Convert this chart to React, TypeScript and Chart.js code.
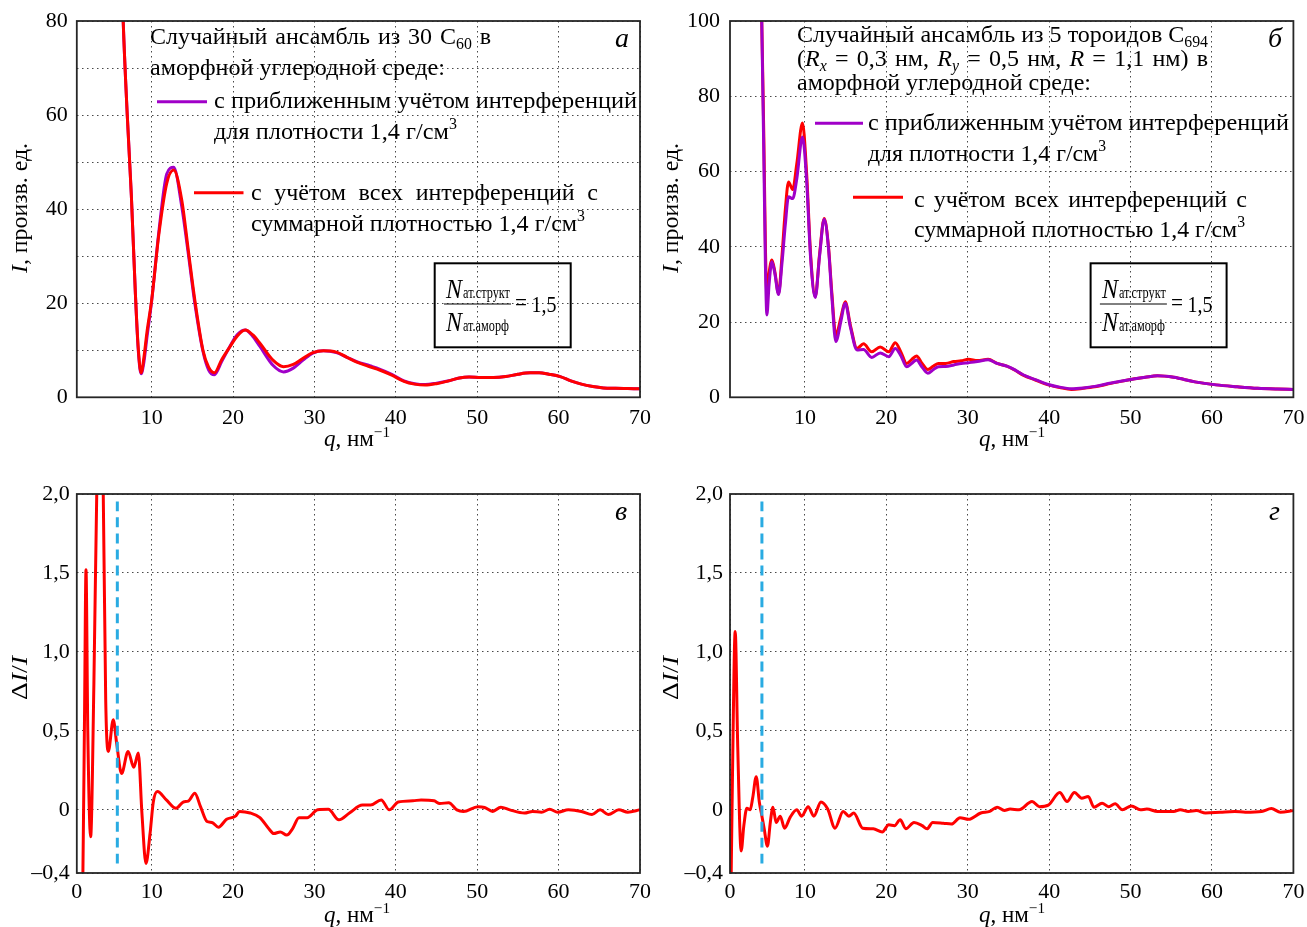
import React, { useEffect, useRef } from 'react';
import { Chart, registerables } from 'chart.js';

Chart.register(...registerables);

// ---------------- data ----------------
// Panel а: I(q) for 30 C60 ensemble
const qA = [5.8, 6.2, 6.5, 7.0, 7.5, 8.0, 8.35, 8.7, 9.05, 9.4, 10.0, 10.9, 11.85, 12.7, 13.7, 14.5, 15.3, 16.3, 17.0, 17.7, 18.6, 19.6, 20.5, 21.5, 22.4, 23.3, 24.9, 26.2, 27.4, 28.6, 29.8, 31.1, 32.7, 34.0, 35.2, 36.8, 38.0, 39.5, 41.0, 42.3, 43.6, 45.0, 46.5, 47.8, 49.0, 50.5, 52.0, 53.5, 55.0, 56.5, 57.6, 58.8, 60.2, 61.5, 62.8, 64.2, 65.5, 67.0, 68.5, 70.0];
const iARed = [130, 98, 80, 60, 43, 22, 10.5, 5.2, 8.5, 13.6, 20.7, 34.9, 45.5, 48.3, 41.9, 31.3, 20.7, 10, 6.4, 5.2, 8, 10.7, 13, 14.3, 13.3, 11.5, 7.9, 6.5, 7.0, 8.3, 9.5, 9.9, 9.6, 8.5, 7.5, 6.5, 5.8, 4.7, 3.4, 2.8, 2.6, 2.9, 3.5, 4.1, 4.3, 4.2, 4.2, 4.4, 4.9, 5.2, 5.2, 4.9, 4.4, 3.5, 2.8, 2.3, 2.0, 1.9, 1.85, 1.8];
const iAPurple = [130, 98, 80, 60, 43, 22, 10.0, 5.0, 7.5, 12.5, 20.5, 35.5, 47.5, 48.9, 40.5, 30.5, 20.0, 9.8, 5.8, 4.8, 7.6, 10.8, 13.3, 14.3, 13.0, 10.8, 6.8, 5.4, 6.2, 7.9, 9.4, 9.9, 9.5, 8.5, 7.6, 6.7, 6.0, 4.9, 3.5, 2.9, 2.7, 3.0, 3.5, 4.1, 4.3, 4.2, 4.2, 4.4, 4.9, 5.2, 5.2, 4.9, 4.4, 3.5, 2.8, 2.3, 2.0, 1.9, 1.85, 1.8];

// Panel б: I(q) for 5 C694 toroids
const qB = [4.3, 4.7, 4.95, 5.15, 5.33, 5.6, 5.94, 6.3, 6.76, 7.2, 7.6, 7.99, 8.5, 9.0, 9.7, 10.2, 10.7, 11.27, 11.8, 12.37, 12.9, 13.3, 13.8, 14.4, 14.95, 15.6, 16.4, 17.2, 18.2, 19.25, 20.3, 21.1, 21.8, 22.5, 23.1, 23.7, 24.4, 25.1, 25.8, 26.4, 27.3, 28.3, 29.2, 30.1, 31.2, 32.5, 33.6, 34.8, 35.8, 36.8, 38.3, 39.9, 41.3, 42.75, 44.2, 45.6, 47.6, 50.2, 51.8, 53.3, 55.3, 57.9, 60.5, 63.1, 65.6, 68, 70];
const iBRed = [150, 100, 70, 40, 27.6, 33, 36.5, 33.5, 27.6, 38, 50, 57.2, 55.2, 62, 72.9, 60, 38, 26.7, 38, 47.5, 40, 28, 16.5, 21, 25.4, 19, 13, 14.2, 12.1, 13.4, 12.1, 14.5, 12, 9.0, 10, 11, 9, 7.4, 8.3, 9.0, 9.0, 9.5, 9.7, 10.1, 9.8, 10.1, 9, 8.3, 7.2, 5.9, 4.6, 3.3, 2.6, 2.1, 2.4, 2.8, 3.7, 4.8, 5.3, 5.7, 5.3, 4.1, 3.3, 2.8, 2.4, 2.2, 2.1];
const iBPurple = [150, 100, 65, 35, 21.9, 30, 36, 33, 27.3, 36, 46, 53.3, 52.8, 58, 69.2, 58, 37, 26.5, 37.5, 47.3, 39.5, 27, 14.8, 20, 25, 18.5, 12.6, 12.7, 10.6, 11.8, 10.8, 13, 11, 8.1, 9, 9.9, 8, 6.4, 7.4, 8.1, 8.2, 8.6, 9, 9.2, 9.5, 10, 9, 8.3, 7.3, 6, 4.7, 3.4, 2.7, 2.3, 2.5, 2.9, 3.8, 4.8, 5.3, 5.7, 5.3, 4.1, 3.3, 2.8, 2.4, 2.2, 2.1];

// Panel в: ΔI/I for C60
const qC = [1.35, 1.55, 1.75, 1.93, 2.15, 2.5, 2.9, 3.25, 3.65, 4.05, 4.35, 4.67, 5.28, 5.7, 6.3, 7.1, 7.8, 8.36, 8.8, 9.3, 9.8, 10.2, 10.7, 11.8, 13.0, 13.9, 14.5, 15.3, 16.0, 16.8, 17.4, 18.2, 19.2, 20.3, 20.8, 22.1, 23.3, 24.4, 25.0, 25.8, 26.6, 27.3, 28.1, 29.1, 30.4, 31.7, 33.0, 34.3, 35.9, 36.9, 38.2, 39.2, 40.3, 42.1, 43.1, 44.7, 45.4, 46.5, 47.5, 48.3, 50.1, 50.9, 51.9, 52.9, 54.0, 55.8, 56.8, 57.9, 58.9, 59.9, 61.2, 62.8, 64.1, 65.1, 66.1, 67.4, 68.5, 70.0];
const dC = [-0.7, -0.4, 0.6, 1.52, 0.5, -0.17, 0.8, 2.0, 2.6, 2.0, 0.7, 0.37, 0.57, 0.42, 0.23, 0.37, 0.27, 0.36, -0.02, -0.34, -0.15, 0.05, 0.116, 0.063, 0.01, 0.05, 0.055, 0.105, 0.02, -0.074, -0.08, -0.11, -0.06, -0.04, -0.01, -0.02, -0.05, -0.12, -0.15, -0.14, -0.16, -0.12, -0.05, -0.05, 0.0, 0.003, -0.063, -0.02, 0.03, 0.03, 0.063, 0.0, 0.05, 0.057, 0.063, 0.057, 0.04, 0.045, 0.0, -0.01, 0.02, 0.015, -0.01, 0.017, 0.0, -0.02, -0.01, -0.015, 0.003, -0.015, 0.0, -0.01, -0.03, 0.0, -0.03, 0.0, -0.015, 0.0];

// Panel г: ΔI/I for C694 toroids
const qD = [0.9, 1.1, 1.44, 1.75, 2.17, 2.5, 2.87, 3.28, 3.6, 4.02, 4.4, 4.72, 5.0, 5.4, 5.75, 6.07, 6.47, 6.97, 7.5, 8.2, 9.0, 9.6, 10.4, 11.1, 11.97, 12.8, 13.7, 14.7, 15.4, 16.0, 17.1, 18.4, 19.5, 20.3, 21.0, 21.7, 22.4, 23.4, 24.4, 25.0, 25.7, 27.0, 28.0, 29.05, 30.1, 31.6, 32.7, 33.6, 34.5, 35.2, 36.3, 37.9, 38.8, 39.9, 41.3, 42.2, 43.1, 44.0, 44.8, 45.5, 46.5, 47.3, 48.1, 49.0, 50.1, 51.2, 52.0, 53.3, 55.3, 56.1, 57.1, 58.1, 59.2, 61.0, 62.8, 64.1, 66.1, 67.3, 68.4, 70.0];
const dD = [-0.6, 0.2, 1.13, 0.4, -0.26, -0.1, 0.01, 0.0, 0.08, 0.21, 0.05, -0.04, -0.12, -0.23, -0.08, 0.017, -0.08, -0.04, -0.116, -0.046, 0.0, -0.04, 0.02, -0.04, 0.05, 0.005, -0.116, -0.01, -0.04, -0.02, -0.116, -0.12, -0.14, -0.095, -0.1, -0.063, -0.12, -0.08, -0.1, -0.12, -0.08, -0.085, -0.09, -0.05, -0.06, -0.02, -0.01, 0.017, -0.004, 0.005, 0.0, 0.053, 0.02, 0.03, 0.11, 0.053, 0.11, 0.074, 0.085, 0.017, 0.042, 0.02, 0.038, 0.0, 0.025, 0.0, 0.005, -0.01, -0.01, 0.0, -0.01, -0.005, -0.02, -0.015, -0.01, -0.015, -0.01, 0.008, -0.015, -0.005];

// blue dashed markers
const markerQC = [5.78, 5.78];
const markerQD = [4.72, 4.72];
const markerV = [-0.34, 1.975];

// ticks
const xTicksTop = [10, 20, 30, 40, 50, 60, 70];
const xLabelsTop = ['10', '20', '30', '40', '50', '60', '70'];
const xTicksBottom = [0, 10, 20, 30, 40, 50, 60, 70];
const xLabelsBottom = ['0', '10', '20', '30', '40', '50', '60', '70'];
const yTicksA = [0, 10, 20, 30, 40, 50, 60, 70, 80];
const yLabelsA = ['0', '', '20', '', '40', '', '60', '', '80'];
const yTicksB = [0, 20, 40, 60, 80, 100];
const yLabelsB = ['0', '20', '40', '60', '80', '100'];
const yTicksD = [-0.4, 0, 0.5, 1, 1.5, 2];
const yLabelsD = ['–0,4', '0', '0,5', '1,0', '1,5', '2,0'];

// ---------------- styles ----------------
const FONT = '"Liberation Serif", "Times New Roman", serif';
const RED = '#FF0000';
const PURPLE = '#A000C8';
const BLUE = '#29ABE2';
const GRID = 'rgba(40,40,40,0.85)';
const X_MIN = 0.8;
const TXT = 24;

type Run = { t: string; it?: boolean; sub?: boolean; sup?: boolean };

function drawRich(ctx: CanvasRenderingContext2D, runs: Run[], x: number, y: number, size: number, endX?: number, mode: 'fit' | 'justify' = 'fit') {
  const pieces: any[] = [];
  for (const r of runs) {
    const s = r.sub || r.sup ? size * 0.66 : size;
    const font = `${r.it ? 'italic ' : ''}${s}px ${FONT}`;
    ctx.font = font;
    const dy = r.sub ? size * 0.22 : r.sup ? -size * 0.4 : 0;
    for (const p of r.t.split(/( )/)) {
      if (!p) continue;
      pieces.push({ text: p, font, w: ctx.measureText(p).width, dy, space: p === ' ' });
    }
  }
  const natural = pieces.reduce((s, p) => s + p.w, 0);
  const nSp = pieces.filter((p) => p.space).length;
  let extra = 0;
  let sx = 1;
  if (endX !== undefined) {
    const target = endX - x;
    if (mode === 'justify' && target > natural && nSp > 0) extra = (target - natural) / nSp;
    else sx = target / natural;
  }
  ctx.save();
  ctx.translate(x, y);
  ctx.scale(sx, 1);
  ctx.fillStyle = '#000';
  ctx.textAlign = 'left';
  ctx.textBaseline = 'alphabetic';
  let cx = 0;
  for (const p of pieces) {
    if (!p.space) {
      ctx.font = p.font;
      ctx.fillText(p.text, cx, p.dy);
    }
    cx += p.w + (p.space ? extra : 0);
  }
  ctx.restore();
}

function legendLine(ctx: CanvasRenderingContext2D, x1: number, x2: number, y: number, color: string) {
  ctx.save();
  ctx.strokeStyle = color;
  ctx.lineWidth = 3;
  ctx.setLineDash([]);
  ctx.beginPath();
  ctx.moveTo(x1, y);
  ctx.lineTo(x2, y);
  ctx.stroke();
  ctx.restore();
}

function yTitle(ctx: CanvasRenderingContext2D, runs: Run[], cx: number, cy: number, len: number, size: number) {
  ctx.save();
  ctx.translate(cx, cy);
  ctx.rotate(-Math.PI / 2);
  drawRich(ctx, runs, -len / 2, size * 0.25, size, len / 2, 'fit');
  ctx.restore();
}

function xTitle(ctx: CanvasRenderingContext2D, runs: Run[], cx: number, base: number, len: number, size: number) {
  drawRich(ctx, runs, cx - len / 2, base, size, cx + len / 2, 'fit');
}

const Q_TITLE: Run[] = [{ t: 'q', it: true }, { t: ', нм' }, { t: '−1', sup: true }];
const I_TITLE: Run[] = [{ t: 'I', it: true }, { t: ', произв. ед.' }];
const D_TITLE: Run[] = [{ t: 'Δ' }, { t: 'I', it: true }, { t: '/' }, { t: 'I', it: true }];

function drawFormula(ctx: CanvasRenderingContext2D, dx: number) {
  ctx.save();
  ctx.strokeStyle = '#000';
  ctx.lineWidth = 2;
  ctx.setLineDash([]);
  ctx.strokeRect(434.7 + dx, 263.3, 136, 84);
  ctx.lineWidth = 1;
  ctx.beginPath();
  ctx.moveTo(444 + dx, 304);
  ctx.lineTo(511 + dx, 304);
  ctx.stroke();
  ctx.restore();
  drawRich(ctx, [{ t: 'N', it: true }], 446 + dx, 298, 27, 462 + dx);
  drawRich(ctx, [{ t: 'ат.структ' }], 463 + dx, 298, 16, 510 + dx);
  drawRich(ctx, [{ t: 'N', it: true }], 446 + dx, 331, 27, 462 + dx);
  drawRich(ctx, [{ t: 'ат.аморф' }], 463 + dx, 331, 16, 509 + dx);
  drawRich(ctx, [{ t: '=' }], 515 + dx, 310, 23, 527 + dx);
  drawRich(ctx, [{ t: '1,5' }], 531.5 + dx, 311.5, 23, 556.5 + dx);
}

function drawA(ctx: CanvasRenderingContext2D) {
  drawRich(ctx, [{ t: 'Случайный ансамбль из 30 C' }, { t: '60', sub: true }, { t: ' в' }], 150, 44, TXT, 491, 'justify');
  drawRich(ctx, [{ t: 'аморфной углеродной среде:' }], 150, 75, TXT, 445);
  legendLine(ctx, 157, 207, 101.7, PURPLE);
  drawRich(ctx, [{ t: 'с приближенным учётом интерференций' }], 214, 108, TXT, 637);
  drawRich(ctx, [{ t: 'для плотности 1,4 г/см' }, { t: '3', sup: true }], 214, 139, TXT, 457);
  legendLine(ctx, 194, 243.5, 192.7, RED);
  drawRich(ctx, [{ t: 'с учётом всех интерференций с' }], 251, 200, TXT, 598, 'justify');
  drawRich(ctx, [{ t: 'суммарной плотностью 1,4 г/см' }, { t: '3', sup: true }], 251, 231, TXT, 585);
  drawRich(ctx, [{ t: 'а', it: true }], 615, 47, 28);
  drawFormula(ctx, 0);
  yTitle(ctx, I_TITLE, 21, 208, 130, 23);
  xTitle(ctx, Q_TITLE, 357, 446, 66, 23);
}

function drawB(ctx: CanvasRenderingContext2D) {
  drawRich(ctx, [{ t: 'Случайный ансамбль из 5 тороидов C' }, { t: '694', sub: true }], 797, 42, TXT, 1208, 'justify');
  drawRich(ctx, [{ t: '(' }, { t: 'R', it: true }, { t: 'x', it: true, sub: true }, { t: ' = 0,3 нм, ' }, { t: 'R', it: true }, { t: 'y', it: true, sub: true }, { t: ' = 0,5 нм, ' }, { t: 'R', it: true }, { t: ' = 1,1 нм) в' }], 797, 66, TXT, 1208, 'justify');
  drawRich(ctx, [{ t: 'аморфной углеродной среде:' }], 797, 90, TXT, 1091);
  legendLine(ctx, 815, 863, 123.3, PURPLE);
  drawRich(ctx, [{ t: 'с приближенным учётом интерференций' }], 868, 130, TXT, 1289);
  drawRich(ctx, [{ t: 'для плотности 1,4 г/см' }, { t: '3', sup: true }], 868, 161, TXT, 1106);
  legendLine(ctx, 853, 903, 197.3, RED);
  drawRich(ctx, [{ t: 'с учётом всех интерференций с' }], 914, 207, TXT, 1247, 'justify');
  drawRich(ctx, [{ t: 'суммарной плотностью 1,4 г/см' }, { t: '3', sup: true }], 914, 237, TXT, 1245);
  drawRich(ctx, [{ t: 'б', it: true }], 1268, 47, 28);
  drawFormula(ctx, 655.9);
  yTitle(ctx, I_TITLE, 672, 208, 130, 23);
  xTitle(ctx, Q_TITLE, 1012, 446, 66, 23);
}

function drawC(ctx: CanvasRenderingContext2D) {
  drawRich(ctx, [{ t: 'в', it: true }], 615, 520, 28);
  yTitle(ctx, D_TITLE, 21, 678, 44, 23);
  xTitle(ctx, Q_TITLE, 357, 922, 66, 23);
}

function drawD(ctx: CanvasRenderingContext2D) {
  drawRich(ctx, [{ t: 'г', it: true }], 1269, 520, 28);
  yTitle(ctx, D_TITLE, 672, 678, 44, 23);
  xTitle(ctx, Q_TITLE, 1012, 922, 66, 23);
}

function series(q: number[], v: number[], color: string, dash: number[] = []) {
  return {
    data: q.map((x, i) => ({ x, y: v[i] })),
    borderColor: color,
    backgroundColor: color,
    borderWidth: 3,
    borderDash: dash,
    pointRadius: 0,
    cubicInterpolationMode: 'monotone',
    fill: false,
    clip: 0,
    borderJoinStyle: 'round',
  };
}

const specs = [
  {
    key: 'a', left: 0, top: 0, w: 654, h: 463, area: { l: 76.8, t: 21, r: 640, b: 397.3 },
    xTicks: xTicksTop, xLabels: xLabelsTop, yMin: 0, yMax: 80, yTicks: yTicksA, yLabels: yLabelsA, yPad: 9, xPad: 8,
    datasets: [series(qA, iARed, RED), series(qA, iAPurple, PURPLE)], draw: drawA,
  },
  {
    key: 'b', left: 654, top: 0, w: 653, h: 463, area: { l: 730, t: 21, r: 1293.4, b: 397.3 },
    xTicks: xTicksTop, xLabels: xLabelsTop, yMin: 0, yMax: 100, yTicks: yTicksB, yLabels: yLabelsB, yPad: 10, xPad: 8,
    datasets: [series(qB, iBPurple, PURPLE), series(qB, iBRed, RED)], draw: drawB,
  },
  {
    key: 'c', left: 0, top: 463, w: 654, h: 464, area: { l: 76.8, t: 494, r: 640, b: 873 },
    xTicks: xTicksBottom, xLabels: xLabelsBottom, yMin: -0.4, yMax: 2, yTicks: yTicksD, yLabels: yLabelsD, yPad: 7, xPad: 6,
    datasets: [series(markerQC, markerV, BLUE, [10, 6]), series(qC, dC, RED)], draw: drawC,
  },
  {
    key: 'd', left: 654, top: 463, w: 653, h: 464, area: { l: 730, t: 494, r: 1293.4, b: 873 },
    xTicks: xTicksBottom, xLabels: xLabelsBottom, yMin: -0.4, yMax: 2, yTicks: yTicksD, yLabels: yLabelsD, yPad: 7, xPad: 6,
    datasets: [series(markerQD, markerV, BLUE, [10, 6]), series(qD, dD, RED)], draw: drawD,
  },
];

function Panel({ spec }: { spec: any }) {
  const ref = useRef<HTMLCanvasElement>(null);
  useEffect(() => {
    const s = spec;
    const canvas = ref.current as HTMLCanvasElement;
    const deco = {
      id: 'deco' + s.key,
      afterDraw(chart: any) {
        const ctx = chart.ctx as CanvasRenderingContext2D;
        const a = chart.chartArea;
        ctx.save();
        ctx.strokeStyle = '#262626';
        ctx.lineWidth = 1.8;
        ctx.setLineDash([]);
        ctx.strokeRect(a.left, a.top, a.right - a.left, a.bottom - a.top);
        ctx.translate(-s.left, -s.top);
        s.draw(ctx);
        ctx.restore();
      },
    };
    const tickFont = { family: FONT, size: 22 };
    const chart = new Chart(canvas, {
      type: 'line',
      data: { datasets: s.datasets },
      options: {
        responsive: false,
        animation: false,
        events: [],
        layout: {
          autoPadding: false,
          padding: { left: 0, top: s.area.t - s.top, right: s.left + s.w - s.area.r, bottom: 0 },
        },
        plugins: { legend: { display: false }, tooltip: { enabled: false } },
        scales: {
          x: {
            type: 'linear',
            min: X_MIN,
            max: 70,
            afterBuildTicks: (sc: any) => {
              sc.ticks = s.xTicks.map((v: number) => ({ value: Math.max(v, X_MIN) }));
            },
            afterFit: (sc: any) => {
              sc.height = s.top + s.h - s.area.b;
              sc.paddingLeft = 0;
              sc.paddingRight = 0;
            },
            grid: { drawTicks: false, color: GRID, lineWidth: 1 },
            border: { display: false, dash: [1.5, 3.5] },
            ticks: {
              padding: s.xPad,
              autoSkip: false,
              maxRotation: 0,
              color: '#000',
              font: tickFont,
              callback: (_v: any, i: number) => s.xLabels[i],
            },
          },
          y: {
            type: 'linear',
            min: s.yMin,
            max: s.yMax,
            afterBuildTicks: (sc: any) => {
              sc.ticks = s.yTicks.map((v: number) => ({ value: v }));
            },
            afterFit: (sc: any) => {
              sc.width = s.area.l - s.left;
              sc.paddingTop = 0;
              sc.paddingBottom = 0;
            },
            grid: { drawTicks: false, color: GRID, lineWidth: 1 },
            border: { display: false, dash: [1.5, 3.5] },
            ticks: {
              padding: s.yPad,
              autoSkip: false,
              color: '#000',
              font: tickFont,
              callback: (_v: any, i: number) => s.yLabels[i],
            },
          },
        },
      } as any,
      plugins: [deco],
    });
    return () => chart.destroy();
  }, [spec]);
  return (
    <canvas
      ref={ref}
      width={spec.w}
      height={spec.h}
      style={{ position: 'absolute', left: spec.left, top: spec.top, width: spec.w, height: spec.h }}
    />
  );
}

export default function App() {
  return (
    <div style={{ position: 'absolute', left: 0, top: 0, width: 1307, height: 927, background: '#fff', overflow: 'hidden' }}>
      {specs.map((s) => (
        <Panel key={s.key} spec={s} />
      ))}
    </div>
  );
}
